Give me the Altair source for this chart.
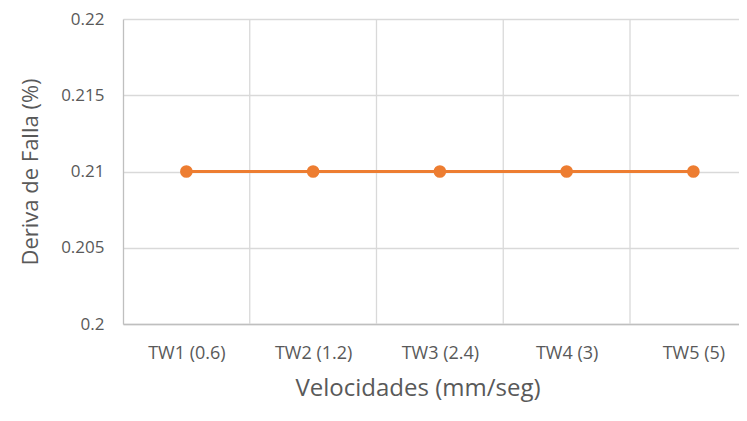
import altair as alt
import pandas as pd

categorias = ["TW1 (0.6)", "TW2 (1.2)", "TW3 (2.4)", "TW4 (3)", "TW5 (5)"]
deriva = [0.21, 0.21, 0.21, 0.21, 0.21]
y_ticks = [0.2, 0.205, 0.21, 0.215, 0.22]
limites = [1, 2, 3, 4]  # category boundaries (vertical gridlines)

df = pd.DataFrame({"cat": categorias, "val": deriva, "idx": list(range(len(categorias)))})
df_lim = pd.DataFrame({"b": limites})

FONT = "Open Sans"
GRAY = "#595959"
GRID = "#d9d9d9"

cat_js = "[" + ",".join("'" + c + "'" for c in categorias) + "]"
xscale = alt.Scale(domain=[0, 4.86], nice=False, zero=False)
yscale = alt.Scale(domain=[0.2, 0.22], nice=False, zero=False)

xaxis = alt.Axis(
    title="Velocidades (mm/seg)",
    titleFont=FONT, titleFontSize=24, titleFontWeight="normal", titleColor=GRAY,
    titlePadding=14, titleX=172, titleAnchor="start", titleAlign="left",
    values=[0.5, 1.5, 2.5, 3.5, 4.5],
    labelExpr=cat_js + "[floor(datum.value)]",
    labelFont=FONT, labelFontSize=18, labelColor=GRAY, labelPadding=20,
    labelAngle=0, labelFlush=False, labelOverlap=False,
    ticks=False, grid=False,
    domainColor="#bfbfbf", domainWidth=1.3,
)
yaxis = alt.Axis(
    title="Deriva de Falla (%)",
    titleFont=FONT, titleFontSize=22, titleFontWeight="normal", titleColor=GRAY,
    titlePadding=18,
    values=y_ticks, format="~g",
    labelFont=FONT, labelFontSize=17, labelColor=GRAY, labelPadding=19,
    ticks=False, grid=True, gridColor=GRID, gridWidth=1.3,
    domainColor="#bfbfbf", domainWidth=1.3,
)

grid_v = alt.Chart(df_lim).mark_rule(color=GRID, strokeWidth=1.3).encode(
    x=alt.X("b:Q", scale=xscale, axis=xaxis),
    y=alt.Y("y0:Q", scale=yscale, axis=yaxis),
    y2="y1:Q",
).transform_calculate(y0="0.2", y1="0.22")

base = alt.Chart(df).transform_calculate(pos="datum.idx + 0.5")
x = alt.X("pos:Q", scale=xscale, axis=xaxis)
y = alt.Y("val:Q", scale=yscale, axis=yaxis)
line = base.mark_line(color="#ED7D31", strokeWidth=3).encode(x=x, y=y)
pts = base.mark_point(filled=True, color="#ED7D31", size=160, opacity=1).encode(x=x, y=y)

chart = (grid_v + line + pts).properties(
    width=616, height=305,
    autosize=alt.AutoSizeParams(type="none"),
    padding={"left": 115, "top": 11, "right": 0, "bottom": 83},
).configure_view(stroke=None)

chart.save("out.html", embed_options={"renderer": "svg", "actions": False})
